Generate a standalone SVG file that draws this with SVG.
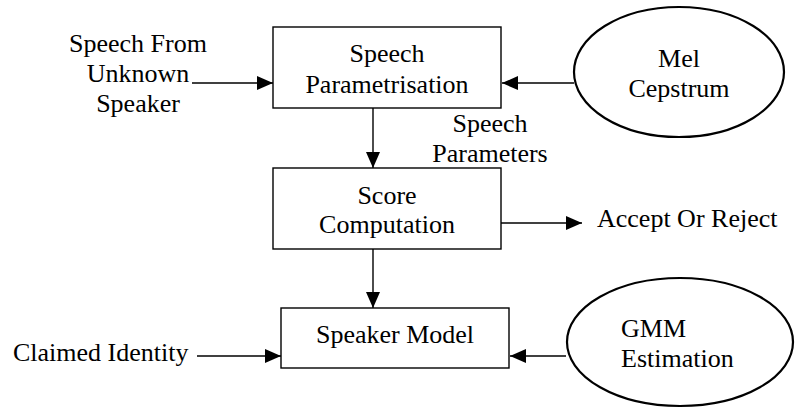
<svg xmlns="http://www.w3.org/2000/svg" width="795" height="410" viewBox="0 0 795 410">
<style>
text{font-family:"Liberation Serif","Times New Roman",serif;font-size:26px;fill:#000}
.c{text-anchor:middle}
.box{fill:#fff;stroke:#000;stroke-width:1.4}
.ell{fill:#fff;stroke:#000;stroke-width:2.2}
.ln{stroke:#000;stroke-width:1.4;fill:none}
</style>
<defs>
<marker id="ah" viewBox="0 0 16 14" refX="16" refY="7" markerWidth="16" markerHeight="14" markerUnits="userSpaceOnUse" orient="auto">
<path d="M0,0 L16,7 L0,14 Z" fill="#000"/>
</marker>
</defs>
<rect width="795" height="410" fill="#fff"/>
<g id="connectors">
<line class="ln" x1="192" y1="83" x2="273" y2="83" marker-end="url(#ah)"/>
<line class="ln" x1="574" y1="83" x2="502" y2="83" marker-end="url(#ah)"/>
<line class="ln" x1="373" y1="108" x2="373" y2="168" marker-end="url(#ah)"/>
<line class="ln" x1="501" y1="223" x2="582" y2="223" marker-end="url(#ah)"/>
<line class="ln" x1="373" y1="249" x2="373" y2="308" marker-end="url(#ah)"/>
<line class="ln" x1="197" y1="356" x2="281" y2="356" marker-end="url(#ah)"/>
<line class="ln" x1="566" y1="356" x2="510" y2="356" marker-end="url(#ah)"/>
</g>
<g id="speech-parametrisation">
<rect class="box" x="273" y="27" width="228" height="81"/>
<text class="c" x="387" y="62">Speech</text>
<text class="c" x="387" y="93">Parametrisation</text>
</g>
<g id="mel-cepstrum">
<ellipse class="ell" cx="679" cy="72" rx="105" ry="65"/>
<text class="c" x="679" y="67">Mel</text>
<text class="c" x="679" y="97">Cepstrum</text>
</g>
<g id="score-computation">
<rect class="box" x="273" y="168" width="228" height="81"/>
<text class="c" x="387" y="204">Score</text>
<text class="c" x="387" y="233">Computation</text>
</g>
<g id="speaker-model">
<rect class="box" x="281" y="308" width="228" height="60"/>
<text class="c" x="395" y="343">Speaker Model</text>
</g>
<g id="gmm-estimation">
<ellipse class="ell" cx="680" cy="342" rx="113" ry="64"/>
<text x="621" y="337">GMM</text>
<text x="621" y="367">Estimation</text>
</g>
<g id="input-speech">
<text class="c" x="138" y="52">Speech From</text>
<text class="c" x="138" y="82">Unknown</text>
<text class="c" x="138" y="112">Speaker</text>
</g>
<g id="speech-parameters">
<text class="c" x="490" y="132">Speech</text>
<text class="c" x="490" y="162">Parameters</text>
</g>
<g id="accept-reject">
<text x="597" y="227">Accept Or Reject</text>
</g>
<g id="claimed-identity">
<text x="13" y="361">Claimed Identity</text>
</g>
</svg>
